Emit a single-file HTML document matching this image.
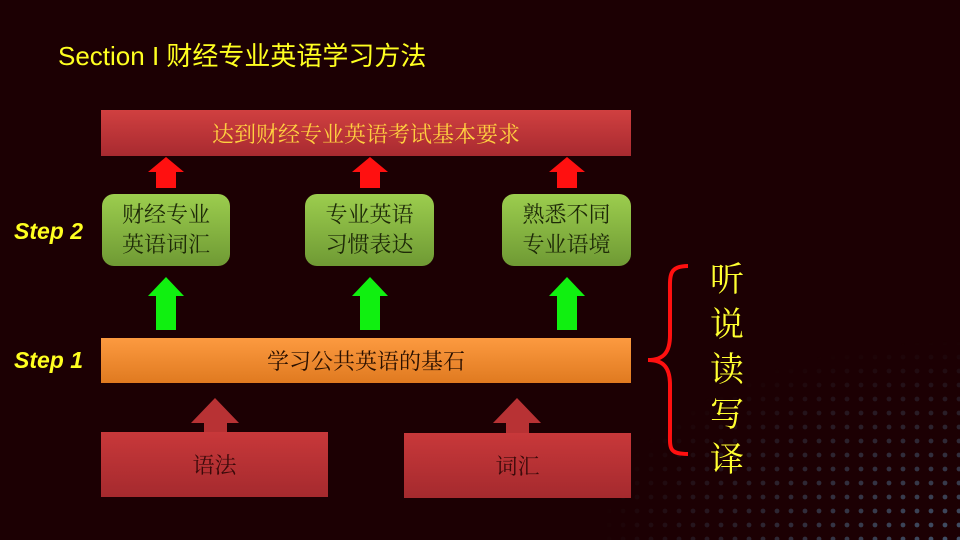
<!DOCTYPE html>
<html><head><meta charset="utf-8"><style>
body{margin:0;width:960px;height:540px;overflow:hidden;background:#1c0003;font-family:"Liberation Sans","Noto Sans CJK SC",sans-serif;position:relative}
.a{position:absolute}
.t{position:absolute;display:flex;align-items:center;justify-content:center;text-align:center;font-family:"Liberation Serif","Noto Serif CJK SC",serif}
.g{background:linear-gradient(#9ccd4e,#6f9a34);border-radius:12px;color:#1e2a08;font-size:22px;line-height:30px}
.r{background:linear-gradient(#c8383a,#a52a2e);color:#3a0a0a;font-size:22px}
</style></head><body>
<svg class="a" style="left:0;top:0" width="960" height="540">
<defs><pattern id="d" width="14" height="14" patternUnits="userSpaceOnUse"><circle cx="7" cy="7" r="2.4" fill="#42526a"/></pattern>
<radialGradient id="m" cx="1" cy="1" r="0.95"><stop offset="0" stop-color="#fff" stop-opacity="1"/><stop offset="1" stop-color="#fff" stop-opacity="0"/></radialGradient>
<mask id="mk"><rect x="580" y="330" width="380" height="210" fill="url(#m)"/></mask></defs>
<rect x="580" y="330" width="380" height="210" fill="url(#d)" mask="url(#mk)"/>
<g fill="#ff1010">
<polygon points="148,172 166,157 184,172 176,172 176,188 156,188 156,172"/>
<polygon points="352,172 370,157 388,172 380,172 380,188 360,188 360,172"/>
<polygon points="549,172 567,157 585,172 577,172 577,188 557,188 557,172"/>
</g>
<g fill="#10f010">
<polygon points="148,296 166,277 184,296 176,296 176,330 156,330 156,296"/>
<polygon points="352,296 370,277 388,296 380,296 380,330 360,330 360,296"/>
<polygon points="549,296 567,277 585,296 577,296 577,330 557,330 557,296"/>
</g>
<g fill="#b83234">
<polygon points="191,423 215,398 239,423 227,423 227,433 204,433 204,423"/>
<polygon points="493,423 517,398 541,423 529,423 529,433 506,433 506,423"/>
</g>
<path d="M688,266 C668,266 670,276 670,295 L670,335 C670,352 664,360 648,360 C664,360 670,368 670,385 L670,430 C670,448 668,454 688,454" fill="none" stroke="#ff1010" stroke-width="4"/>
</svg>
<div class="a" style="left:58px;top:36px;font-size:26px;color:#ffff20">Section I 财经专业英语学习方法</div>
<div class="t" style="left:101px;top:110px;width:530px;height:46px;background:linear-gradient(#d04040,#a82a30);color:#ffd040;font-size:22px">达到财经专业英语考试基本要求</div>
<div class="t g" style="left:102px;top:194px;width:128px;height:72px">财经专业<br>英语词汇</div>
<div class="t g" style="left:305px;top:194px;width:129px;height:72px">专业英语<br>习惯表达</div>
<div class="t g" style="left:502px;top:194px;width:129px;height:72px">熟悉不同<br>专业语境</div>
<div class="a" style="left:14px;top:218px;font-size:23px;font-weight:bold;font-style:italic;color:#ffff20">Step 2</div>
<div class="a" style="left:14px;top:347px;font-size:23px;font-weight:bold;font-style:italic;color:#ffff20">Step 1</div>
<div class="t" style="left:101px;top:338px;width:530px;height:45px;background:linear-gradient(#fc9a40,#e07a20);color:#2a1000;font-size:22px">学习公共英语的基石</div>
<div class="t r" style="left:101px;top:432px;width:227px;height:65px">语法</div>
<div class="t r" style="left:404px;top:433px;width:227px;height:65px">词汇</div>
<div class="a" style="left:707px;top:254px;width:40px;font-family:'Noto Serif CJK SC',serif;font-size:34px;line-height:45px;color:#ffff30;text-align:center">听<br>说<br>读<br>写<br>译</div>
</body></html>
